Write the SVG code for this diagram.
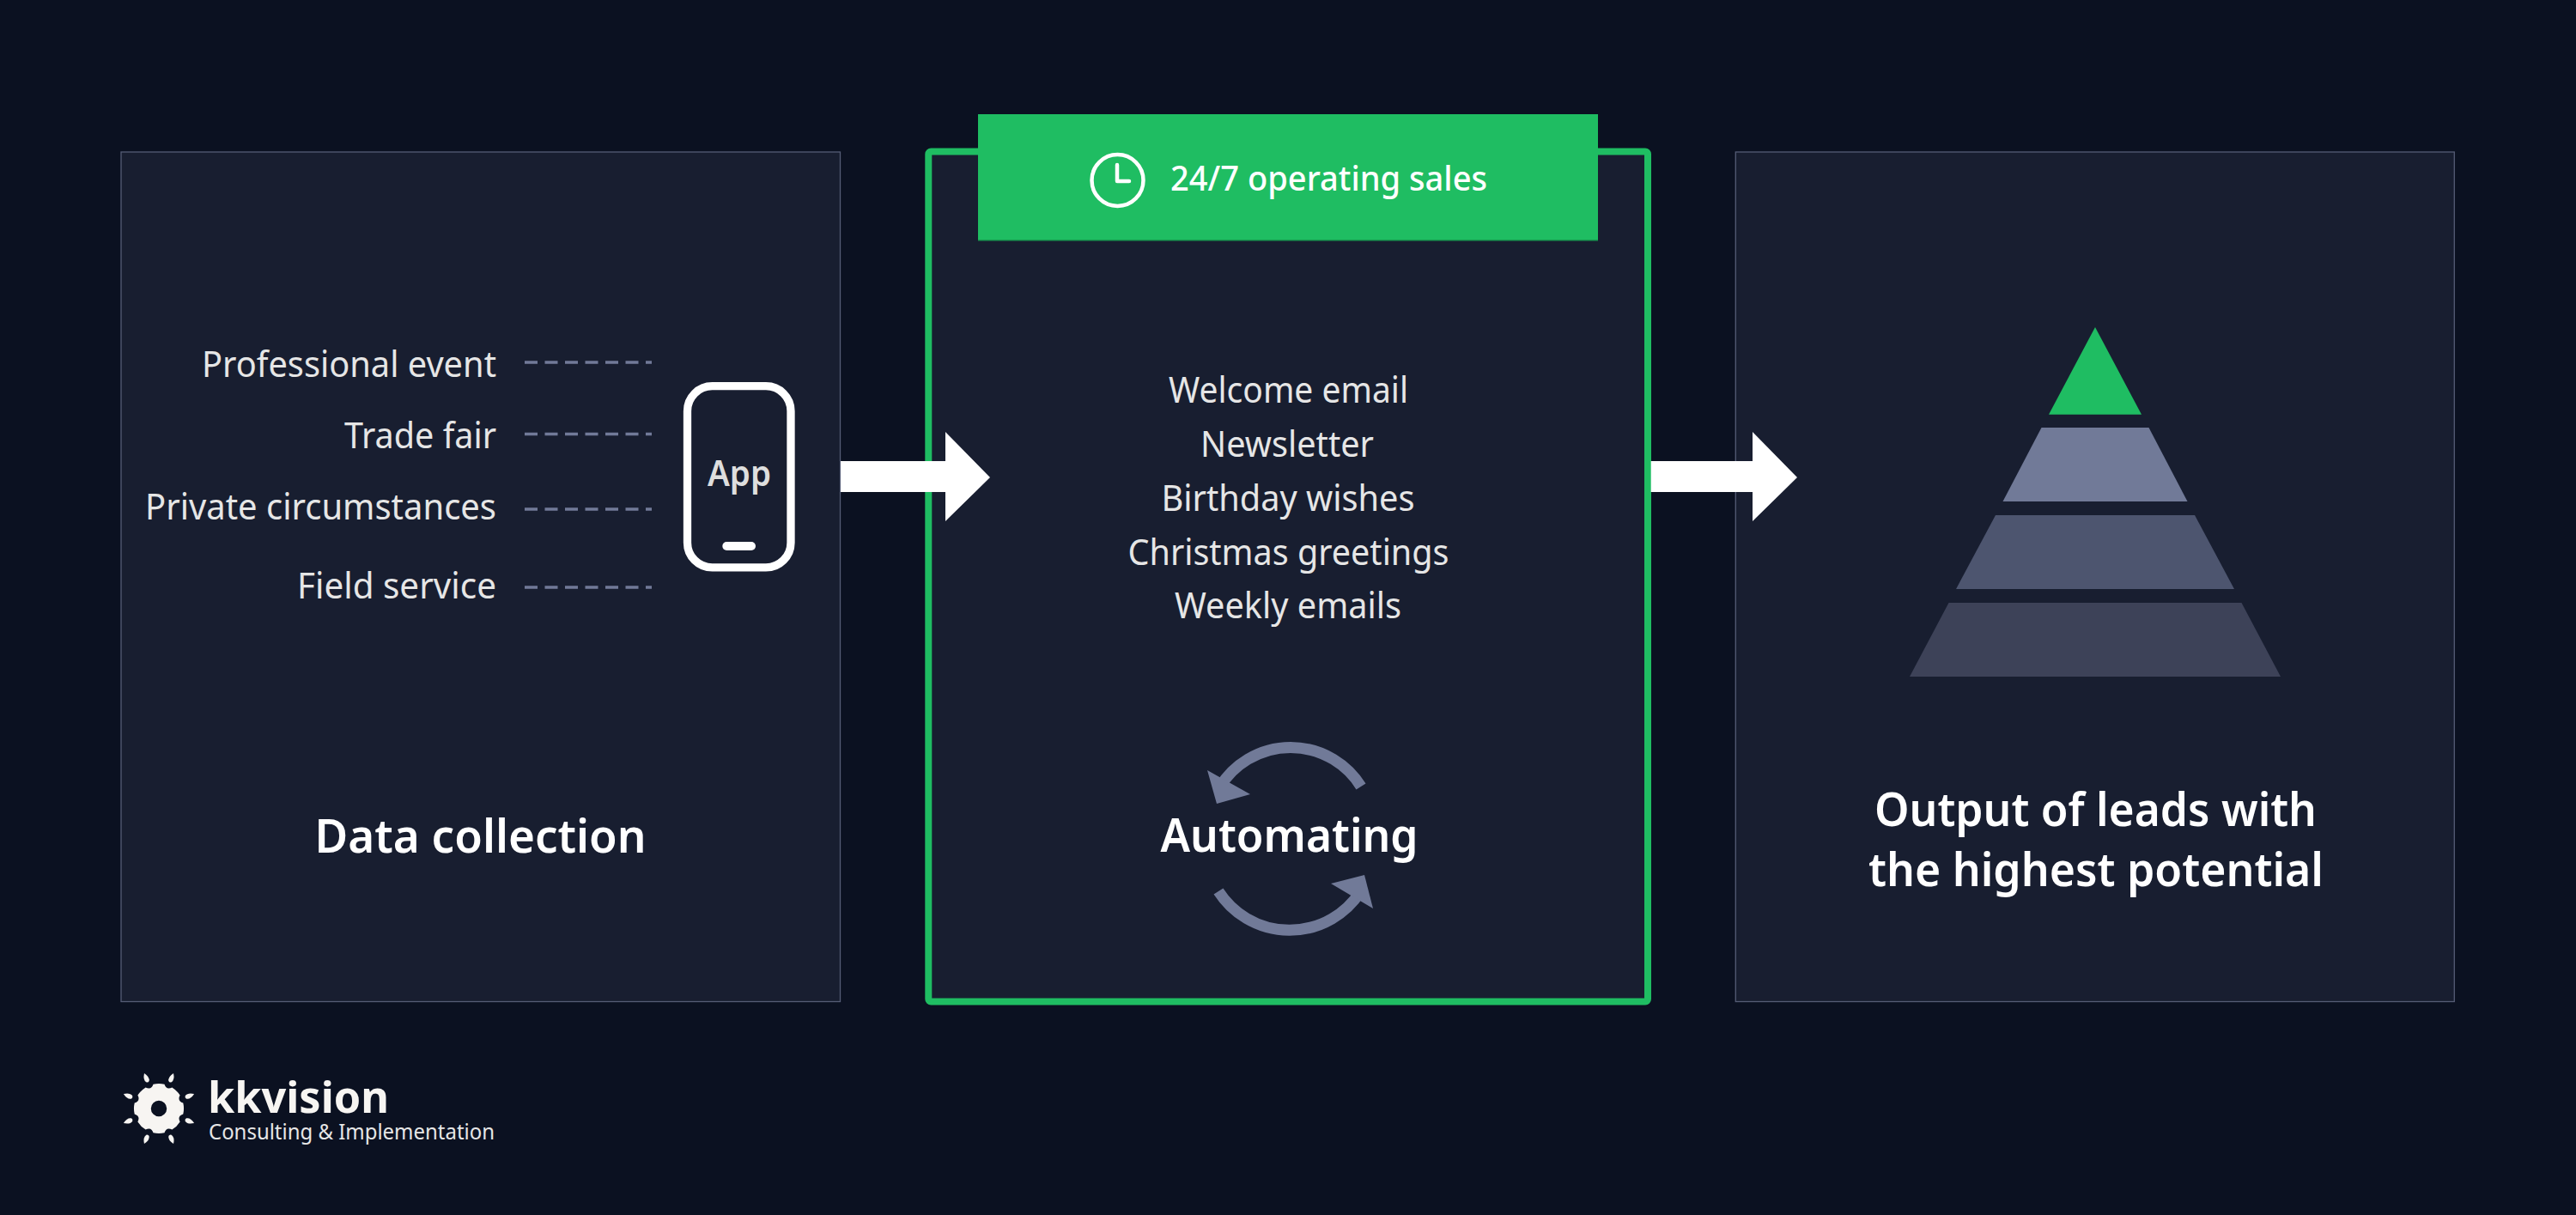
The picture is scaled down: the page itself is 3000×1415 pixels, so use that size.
<svg xmlns="http://www.w3.org/2000/svg" width="3000" height="1415" viewBox="0 0 3000 1415">
<defs>
<style>
text{font-family:"Noto Sans","Open Sans","Liberation Sans",sans-serif}
.panel{fill:#181e30;stroke:#555c76;stroke-width:1.300}
.lab{font-size:41px;fill:#e6e6e6;text-anchor:end}
.lst{font-size:41px;fill:#e6e6e6;text-anchor:middle}
.ttl{font-size:55px;font-weight:600;fill:#fff;text-anchor:middle}
.dash{stroke:#717a98;stroke-width:3.500;stroke-dasharray:15 8.500;fill:none}
.arr{fill:#fff}
.cyc{fill:none;stroke:#717a98;stroke-width:13}
.cych{fill:#717a98}
.pet{fill:#f7f5f2}
</style>
<path id="leaf" d="M185 1246.500Q189.500 1253 186.800 1257Q185 1258.500 183.200 1257Q180.500 1253 185 1246.500Z"/>
</defs>
<rect width="3000" height="1415" fill="#0b1121"/>
<g id="node-data-collection">
<rect class="panel" x="141" y="177" width="837.500" height="989.500"/>
<text class="lab" x="578" y="439" textLength="343" lengthAdjust="spacingAndGlyphs">Professional event</text>
<text class="lab" x="578" y="522" textLength="177" lengthAdjust="spacingAndGlyphs">Trade fair</text>
<text class="lab" x="578" y="605" textLength="409" lengthAdjust="spacingAndGlyphs">Private circumstances</text>
<text class="lab" x="578" y="697" textLength="232" lengthAdjust="spacingAndGlyphs">Field service</text>
<text class="ttl" x="559.500" y="993" textLength="386" lengthAdjust="spacingAndGlyphs">Data collection</text>
</g>
<g id="node-app">
<rect x="800.500" y="449.700" width="120.500" height="211.200" rx="29" fill="none" stroke="#fff" stroke-width="9.300"/>
<rect x="841.300" y="631" width="38.700" height="10" rx="5" fill="#fff"/>
<text x="861" y="566" font-size="41" font-weight="600" fill="#dedede" text-anchor="middle" textLength="74" lengthAdjust="spacingAndGlyphs">App</text>
</g>
<g id="node-automating">
<rect x="1081.300" y="176.500" width="837.700" height="990" rx="3" fill="#181e30" stroke="#1fbd62" stroke-width="8"/>
<text class="lst" x="1500.500" y="469" textLength="279" lengthAdjust="spacingAndGlyphs">Welcome email</text>
<text class="lst" x="1499" y="532" textLength="202" lengthAdjust="spacingAndGlyphs">Newsletter</text>
<text class="lst" x="1500" y="595" textLength="295" lengthAdjust="spacingAndGlyphs">Birthday wishes</text>
<text class="lst" x="1500.500" y="658" textLength="374" lengthAdjust="spacingAndGlyphs">Christmas greetings</text>
<text class="lst" x="1500" y="720" textLength="264" lengthAdjust="spacingAndGlyphs">Weekly emails</text>
<text class="ttl" x="1501.500" y="992" textLength="300" lengthAdjust="spacingAndGlyphs">Automating</text>
<path class="cyc" d="M1585 916A96.600 96.600 0 0 0 1421 916"/>
<polygon class="cych" points="1406,897 1417,936 1456,925"/>
<path class="cyc" d="M1419 1038A98.400 98.400 0 0 0 1584 1039"/>
<polygon class="cych" points="1550,1029 1589,1019 1599,1058"/>
</g>
<g id="node-banner">
<rect x="1139" y="133" width="722" height="147" fill="#1fbd62"/>
<rect x="1139" y="279" width="722" height="1.500" fill="#179a50"/>
<circle cx="1301.500" cy="210" r="30" fill="none" stroke="#fff" stroke-width="4.500"/>
<path d="M1301 192V211H1315" fill="none" stroke="#fff" stroke-width="4.500" stroke-linecap="round" stroke-linejoin="round"/>
<text x="1363" y="222" font-size="40" font-weight="500" fill="#fff" textLength="369" lengthAdjust="spacingAndGlyphs">24/7 operating sales</text>
</g>
<g id="node-output">
<rect class="panel" x="2021.300" y="177" width="837" height="989.500"/>
<polygon points="2440,381 2386,482.700 2494,482.700" fill="#1fbd62"/>
<polygon points="2377.500,498 2502.500,498 2547.500,584 2332.500,584" fill="#717a98"/>
<polygon points="2324,600 2556,600 2602,686 2278,686" fill="#4d556f"/>
<polygon points="2269.500,702 2610.500,702 2656,788 2224,788" fill="#3d4258"/>
<text class="ttl" x="2440.500" y="962" textLength="515" lengthAdjust="spacingAndGlyphs">Output of leads with</text>
<text class="ttl" x="2441" y="1032" textLength="530" lengthAdjust="spacingAndGlyphs">the highest potential</text>
</g>
<g id="connectors">
<path class="dash" d="M611 422H759M611 505.500H759M611 593H759M611 684H759"/>
<polygon class="arr" points="979,537 1101,537 1101,503 1153,556 1101,607 1101,573 979,573"/>
<polygon class="arr" points="1922.700,537 2041,537 2041,503 2093,556 2041,607 2041,573 1922.700,573"/>
</g>
<g id="logo">
<path fill="#f7f5f2" fill-rule="evenodd" d="M178.500 1262.700A29 29 0 0 1 191.500 1262.700Q193.800 1269.800 200.400 1266.400A29 29 0 0 1 209.600 1275.600Q206.200 1282.200 213.300 1284.500A29 29 0 0 1 213.300 1297.500Q206.200 1299.800 209.600 1306.400A29 29 0 0 1 200.400 1315.600Q193.800 1312.200 191.500 1319.300A29 29 0 0 1 178.500 1319.300Q176.200 1312.200 169.600 1315.600A29 29 0 0 1 160.400 1306.400Q163.800 1299.800 156.700 1297.500A29 29 0 0 1 156.700 1284.500Q163.800 1282.200 160.400 1275.600A29 29 0 0 1 169.600 1266.400Q176.200 1269.800 178.500 1262.700ZM185 1281.800A9.200 9.200 0 1 0 185 1300.200A9.200 9.200 0 1 0 185 1281.800Z"/>
<use class="pet" href="#leaf" transform="rotate(22.500 185 1291)"/>
<use class="pet" href="#leaf" transform="rotate(-22.500 185 1291)"/>
<use class="pet" href="#leaf" transform="rotate(67.500 185 1291)"/>
<use class="pet" href="#leaf" transform="rotate(-67.500 185 1291)"/>
<use class="pet" href="#leaf" transform="rotate(112.500 185 1291)"/>
<use class="pet" href="#leaf" transform="rotate(-112.500 185 1291)"/>
<use class="pet" href="#leaf" transform="rotate(157.500 185 1291)"/>
<use class="pet" href="#leaf" transform="rotate(-157.500 185 1291)"/>
<text x="242" y="1296" font-size="50" font-weight="700" fill="#f7f5f2" textLength="211" lengthAdjust="spacingAndGlyphs">kkvision</text>
<text x="243" y="1327" font-size="26" fill="#e6e6e6" textLength="333" lengthAdjust="spacingAndGlyphs">Consulting &amp; Implementation</text>
</g>
</svg>
